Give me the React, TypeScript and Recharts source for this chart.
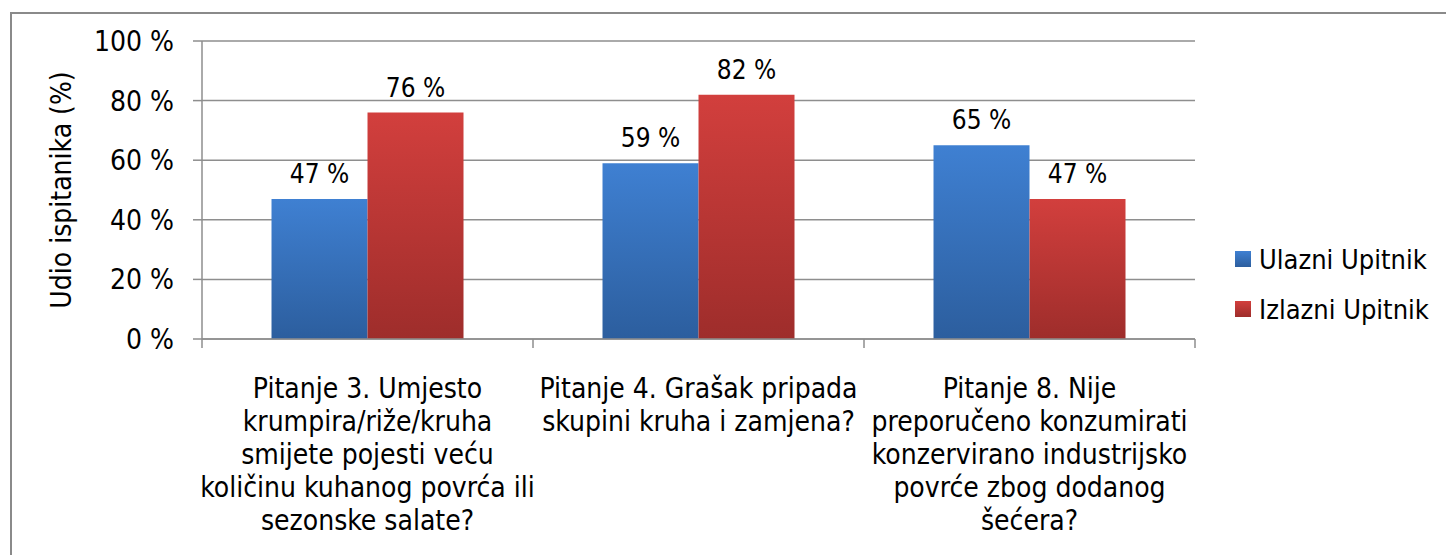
import { BarChart, Bar, XAxis, YAxis, CartesianGrid, LabelList, Legend } from "recharts";

const categories = [
  "Pitanje 3. Umjesto\nkrumpira/riže/kruha\nsmijete pojesti veću\nkoličinu kuhanog povrća ili\nsezonske salate?",
  "Pitanje 4. Grašak pripada\nskupini kruha i zamjena?",
  "Pitanje 8. Nije\npreporučeno konzumirati\nkonzervirano industrijsko\npovrće zbog dodanog\nšećera?",
];
const ulazni = [47, 59, 65];
const izlazni = [76, 82, 47];
const yTicks = [0, 20, 40, 60, 80, 100];
const seriesNames = ["Ulazni Upitnik", "Izlazni Upitnik"];

const data = categories.map((c, i) => ({ name: c, ulazni: ulazni[i], izlazni: izlazni[i] }));

const FONT = "'DejaVu Sans Condensed', 'DejaVu Sans', sans-serif";
const GRID = "#8e8e8e";

const CategoryTick = (props: any) => {
  const { x, y, payload, index, width } = props;
  const half = payload?.offset ?? width / categories.length / 2;
  const lines = String(payload.value).split("\n");
  return (
    <g>
      <line x1={x - half} y1={y - 8} x2={x - half} y2={y + 1} stroke={GRID} strokeWidth={1.5} />
      {index === categories.length - 1 && (
        <line x1={x + half} y1={y - 8} x2={x + half} y2={y + 1} stroke={GRID} strokeWidth={1.5} />
      )}
      <text x={x} y={y} textAnchor="middle" fontSize={28} fontFamily={FONT} fill="#000">
        {lines.map((l, i) => (
          <tspan key={i} x={x} dy={i === 0 ? 51 : 33}>
            {l}
          </tspan>
        ))}
      </text>
    </g>
  );
};

const LegendBox = () => (
  <div style={{ fontFamily: FONT, fontSize: 27, color: "#000" }}>
    {seriesNames.map((n, i) => (
      <div key={n} style={{ display: "flex", alignItems: "center", height: 50 }}>
        <span
          style={{
            width: 16,
            height: 16,
            marginRight: 8,
            background: i === 0 ? "linear-gradient(#3f80d2, #2c5e9e)" : "linear-gradient(#d23f3d, #9e2d2b)",
          }}
        />
        {n}
      </div>
    ))}
  </div>
);

export default function App() {
  return (
    <div style={{ position: "absolute", left: 0, top: 0, width: 1446, height: 555, background: "#fff" }}>
      <div
        style={{
          position: "absolute",
          left: 10,
          top: 12,
          width: 1450,
          height: 560,
          border: "2px solid #8a8a8a",
        }}
      />
      <div style={{ position: "absolute", left: 0, top: 0 }}>
        <BarChart
          width={1446}
          height={555}
          data={data}
          margin={{ top: 41, right: 41, left: 122, bottom: 0 }}
          barCategoryGap="21%"
          barGap={0}
        >
          <defs>
            <linearGradient id="gBlue" x1="0" y1="0" x2="0" y2="1">
              <stop offset="0%" stopColor="#3f80d2" />
              <stop offset="100%" stopColor="#2c5e9e" />
            </linearGradient>
            <linearGradient id="gRed" x1="0" y1="0" x2="0" y2="1">
              <stop offset="0%" stopColor="#d23f3d" />
              <stop offset="100%" stopColor="#9e2d2b" />
            </linearGradient>
          </defs>
          <CartesianGrid vertical={false} stroke={GRID} strokeWidth={1.5} />
          <XAxis
            dataKey="name"
            height={216}
            interval={0}
            axisLine={{ stroke: GRID, strokeWidth: 1.5 }}
            tickLine={false}
            tick={<CategoryTick />}
          />
          <YAxis
            domain={[0, 100]}
            ticks={yTicks}
            width={80}
            tickFormatter={(v) => `${v} %`}
            axisLine={{ stroke: GRID, strokeWidth: 1.5 }}
            tickLine={{ stroke: GRID, strokeWidth: 1.5 }}
            tickSize={9}
            tickMargin={19}
            tick={{ fontSize: 28, fontFamily: FONT, fill: "#000" }}
            label={{
              value: "Udio ispitanika (%)",
              angle: -90,
              position: "insideLeft",
              dx: -66,
              dy: 0,
              style: { fontSize: 28, fontFamily: FONT, fill: "#000", textAnchor: "middle" },
            }}
          />
          <Legend
            layout="vertical"
            align="right"
            verticalAlign="top"
            content={<LegendBox />}
            wrapperStyle={{ left: 1235, top: 234, width: 210 }}
          />
          <Bar dataKey="ulazni" name={seriesNames[0]} fill="url(#gBlue)" isAnimationActive={false}>
            <LabelList
              dataKey="ulazni"
              position="top"
              offset={16}
              formatter={(v: any) => `${v} %`}
              style={{ fontSize: 26, fontFamily: FONT, fill: "#000" }}
            />
          </Bar>
          <Bar dataKey="izlazni" name={seriesNames[1]} fill="url(#gRed)" isAnimationActive={false}>
            <LabelList
              dataKey="izlazni"
              position="top"
              offset={16}
              formatter={(v: any) => `${v} %`}
              style={{ fontSize: 26, fontFamily: FONT, fill: "#000" }}
            />
          </Bar>
        </BarChart>
      </div>
    </div>
  );
}
